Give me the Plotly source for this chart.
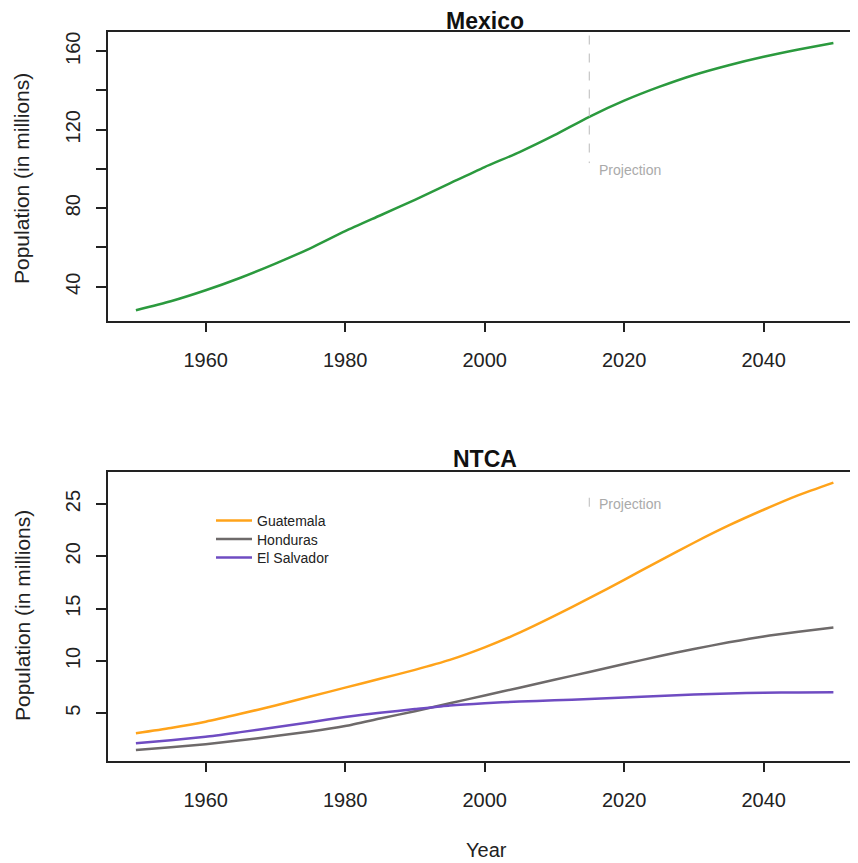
import plotly.graph_objects as go

years = [1950, 1955, 1960, 1965, 1970, 1975, 1980, 1985, 1990, 1995, 2000,
         2005, 2010, 2015, 2020, 2025, 2030, 2035, 2040, 2045, 2050]
mexico = [28.0, 32.6, 38.2, 44.6, 51.8, 59.6, 68.3, 76.3, 84.3, 92.7, 101.0,
          108.6, 117.2, 126.6, 134.8, 141.8, 147.9, 152.9, 157.2, 160.9, 164.2]

guatemala = [3.1, 3.6, 4.2, 4.95, 5.75, 6.6, 7.45, 8.3, 9.15, 10.1, 11.3,
             12.7, 14.3, 16.0, 17.75, 19.55, 21.3, 22.95, 24.45, 25.85, 27.05]
honduras = [1.49, 1.75, 2.04, 2.42, 2.83, 3.25, 3.78, 4.5, 5.2, 5.96, 6.7,
            7.45, 8.2, 8.95, 9.71, 10.45, 11.15, 11.78, 12.35, 12.8, 13.2]
el_salvador = [2.13, 2.43, 2.76, 3.2, 3.66, 4.15, 4.65, 5.05, 5.4, 5.75, 5.97,
               6.12, 6.24, 6.36, 6.5, 6.66, 6.8, 6.9, 6.96, 6.99, 7.0]

x_ticks = [1960, 1980, 2000, 2020, 2040]
mex_ticks = [40, 60, 80, 100, 120, 140, 160]
mex_ticktext = ["40", "", "80", "", "120", "", "160"]
ntca_ticks = [5, 10, 15, 20, 25]
projection_year = 2015

OFF = 8
W, H = 858 - OFF, 863 - OFF
FONT = "Liberation Sans, Arial, Helvetica, sans-serif"


def fy(px):
    return 1 - (px - OFF) / H


def fx(px):
    return (px - OFF) / W


fig = go.Figure()

line_common = dict(width=2.5, shape="spline", smoothing=0.6)
fig.add_trace(go.Scatter(x=years, y=mexico, mode="lines", line=dict(line_common, color="#2b9a3e"),
                         showlegend=False, xaxis="x", yaxis="y"))
fig.add_trace(go.Scatter(x=years, y=guatemala, mode="lines", name="Guatemala", legend="legend",
                         line=dict(line_common, color="#ffa31a"), xaxis="x2", yaxis="y2"))
fig.add_trace(go.Scatter(x=years, y=honduras, mode="lines", name="Honduras", legend="legend2",
                         line=dict(line_common, color="#6e6a6a"), xaxis="x2", yaxis="y2"))
fig.add_trace(go.Scatter(x=years, y=el_salvador, mode="lines", name="El Salvador", legend="legend3",
                         line=dict(line_common, color="#6f4cc2"), xaxis="x2", yaxis="y2"))

xrange_ = [1946, 1946 + (858 - 108) / 6.975]
xdom = [fx(108), 1.0]

common_x = dict(range=xrange_, domain=xdom, showgrid=False, zeroline=False,
                showline=True, linecolor="#222", linewidth=1.5, mirror=True,
                ticks="outside", ticklen=10, tickwidth=1.5, tickcolor="#222",
                tickvals=x_ticks, ticktext=[str(v) for v in x_ticks],
                tickfont=dict(family=FONT, size=20, color="#222"), ticklabelstandoff=11)
common_y = dict(showgrid=False, zeroline=False, showline=True, linecolor="#222", linewidth=1.5,
                ticks="outside", ticklen=10, tickwidth=1.5, tickcolor="#222", tickangle=-90,
                tickfont=dict(family=FONT, size=20, color="#222"), ticklabelstandoff=8)

leg_common = dict(xanchor="left", yanchor="middle", bgcolor="rgba(0,0,0,0)", itemwidth=36,
                  font=dict(family=FONT, size=14, color="#222"))

fig.update_layout(
    width=W, height=H,
    margin=dict(l=0, r=0, t=0, b=0),
    paper_bgcolor="white", plot_bgcolor="white",
    xaxis=dict(common_x, anchor="y"),
    yaxis=dict(common_y, anchor="x", domain=[fy(320.7), fy(32)], range=[22.7, 169.8],
               tickvals=mex_ticks, ticktext=mex_ticktext),
    xaxis2=dict(common_x, anchor="y2"),
    yaxis2=dict(common_y, anchor="x2", domain=[fy(760.7), fy(472)], range=[0.47, 28.06],
                tickvals=ntca_ticks, ticktext=[str(v) for v in ntca_ticks]),
    legend=dict(leg_common, x=fx(211), y=fy(521)),
    legend2=dict(leg_common, x=fx(211), y=fy(539.5)),
    legend3=dict(leg_common, x=fx(211), y=fy(558)),
    showlegend=True,
)

# Projection markers
fig.add_shape(type="line", xref="x", yref="y", x0=projection_year, x1=projection_year, y0=168, y1=103,
              line=dict(color="#bbbbbb", width=1, dash="dash"))
fig.add_shape(type="line", xref="x2", yref="y2", x0=projection_year, x1=projection_year, y0=25.6, y1=24.5,
              line=dict(color="#bbbbbb", width=1, dash="dash"))
fig.add_annotation(x=projection_year, y=99.5, xref="x", yref="y", text="Projection", showarrow=False,
                   xanchor="left", yanchor="middle", xshift=8, font=dict(family=FONT, size=14, color="#aaaaaa"))
fig.add_annotation(x=projection_year, y=25.0, xref="x2", yref="y2", text="Projection", showarrow=False,
                   xanchor="left", yanchor="middle", xshift=8, font=dict(family=FONT, size=14, color="#aaaaaa"))

# Titles
ann = dict(xref="paper", yref="paper", showarrow=False, xanchor="center", yanchor="middle")
fig.add_annotation(ann, x=fx(485), y=fy(21), text="<b>Mexico</b>", font=dict(family=FONT, size=23, color="#111"))
fig.add_annotation(ann, x=fx(485), y=fy(459), text="<b>NTCA</b>", font=dict(family=FONT, size=23, color="#111"))
fig.add_annotation(ann, x=fx(22), y=fy(179), text="Population (in millions)", textangle=-90,
                   font=dict(family=FONT, size=21, color="#222"))
fig.add_annotation(ann, x=fx(22), y=fy(616), text="Population (in millions)", textangle=-90,
                   font=dict(family=FONT, size=21, color="#222"))
fig.add_annotation(ann, x=fx(486), y=fy(850), text="Year", font=dict(family=FONT, size=20, color="#222"))

fig.write_html("out.html")
